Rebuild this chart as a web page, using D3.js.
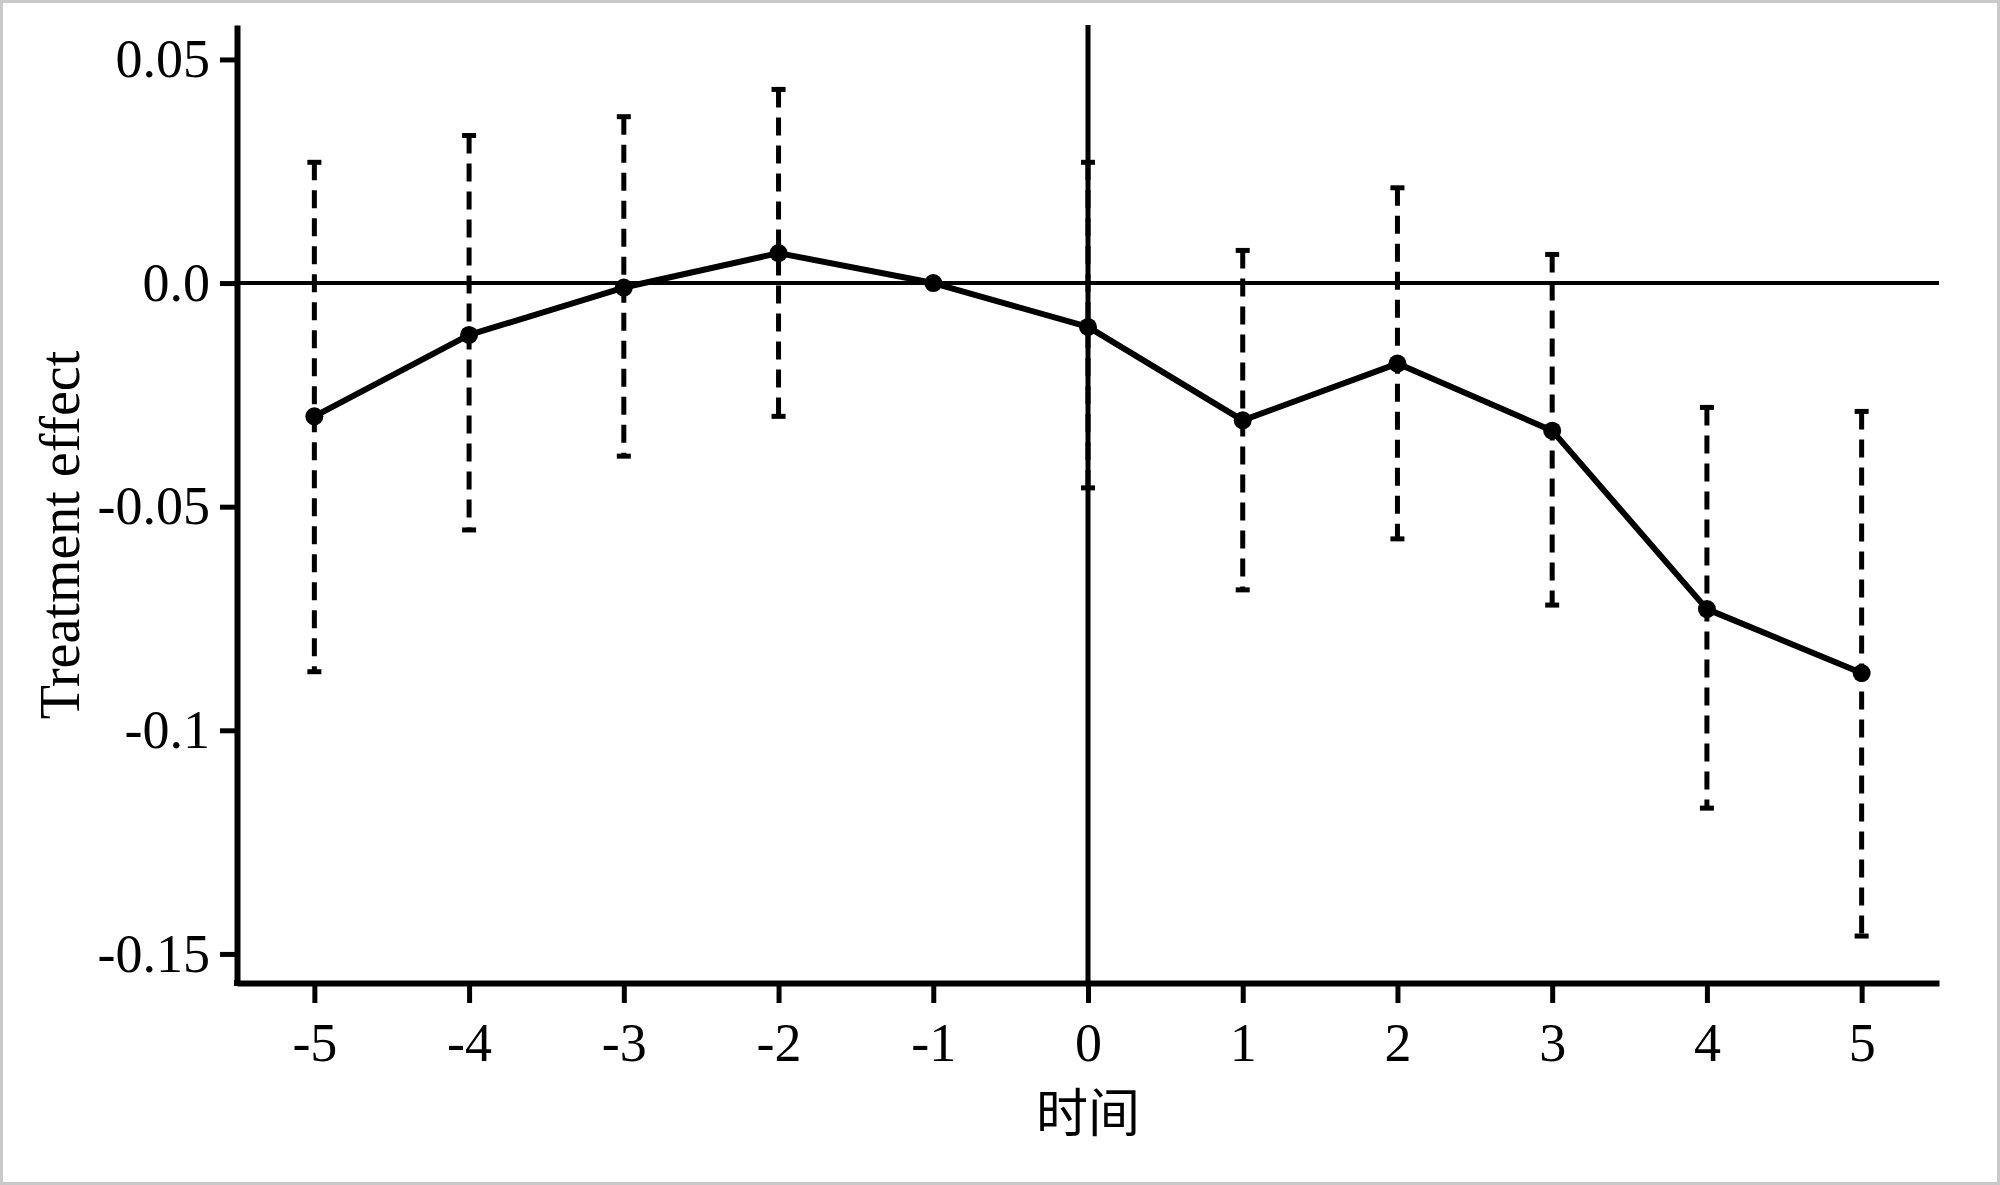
<!DOCTYPE html>
<html>
<head>
<meta charset="utf-8">
<script src="https://cdn.jsdelivr.net/npm/d3@7"></script>
<style>
  body { margin: 0; background: #fff; }
  svg { display: block; }
  .axisGroup text { font-family: "Liberation Serif", "DejaVu Serif", serif; font-size: 54px; fill: #000; }
  .axisGroup path, .axisGroup line { stroke: #000; }
</style>
</head>
<body>
<div id="container"></div>
<script>
// event time, coefficients and 95% bounds
var periods = [-5, -4, -3, -2, -1, 0, 1, 2, 3, 4, 5];
var effects = [-0.0298, -0.0116, -0.0010, 0.0067, 0.0, -0.0098, -0.0307, -0.0180, -0.0330, -0.0729, -0.0872];
var upper = [0.0270, 0.0330, 0.0372, 0.0433, null, 0.0270, 0.0073, 0.0213, 0.0064, -0.0278, -0.0287];
var lower = [-0.0869, -0.0552, -0.0387, -0.0298, null, -0.0458, -0.0686, -0.0572, -0.0720, -0.1174, -0.1460];
var yTicks = [0.05, 0, -0.05, -0.1, -0.15];
var yTickLabels = ["0.05", "0.0", "-0.05", "-0.1", "-0.15"];
var xTickLabels = ["-5", "-4", "-3", "-2", "-1", "0", "1", "2", "3", "4", "5"];

var width = 2000, height = 1185;
var margin = { top: 25, right: 61, bottom: 202, left: 237 };

var container = d3.select("#container");
var chart = container.append("svg")
  .attr("width", width)
  .attr("height", height);

// light frame round the picture
chart.append("rect")
  .attr("x", 1.5)
  .attr("y", 1.5)
  .attr("width", width - 3)
  .attr("height", height - 3)
  .attr("fill", "#fff")
  .attr("stroke", "#c9c9c9")
  .attr("stroke-width", 3);

var x = d3.scaleLinear()
  .domain([-5.5, 5.5])
  .range([margin.left, width - margin.right]);
var y = d3.scaleLinear()
  .domain([-0.1565, 0.0577])
  .range([height - margin.bottom, margin.top]);

var chartData = periods.map(function(p, i) {
  return { period: p, effect: effects[i], hi: upper[i], lo: lower[i] };
});

var chartGroup = chart.append("g").attr("id", "chartGroup");

// zero reference line
chartGroup.append("line")
  .attr("x1", x.range()[0])
  .attr("x2", x.range()[1])
  .attr("y1", y(0))
  .attr("y2", y(0))
  .attr("stroke", "#000")
  .attr("stroke-width", 4);

// confidence intervals, dashed
var bars = chartData.filter(function(d) { return d.hi !== null; });
chartGroup.selectAll(".ci")
  .data(bars)
  .enter().append("line")
    .classed("ci", true)
    .attr("x1", function(d) { return x(d.period); })
    .attr("x2", function(d) { return x(d.period); })
    .attr("y1", function(d) { return y(d.hi); })
    .attr("y2", function(d) { return y(d.lo); })
    .attr("stroke", "#000")
    .attr("stroke-width", 5)
    .attr("stroke-dasharray", "18,10");
chartGroup.selectAll(".capHi")
  .data(bars)
  .enter().append("line")
    .classed("capHi", true)
    .attr("x1", function(d) { return x(d.period) - 7; })
    .attr("x2", function(d) { return x(d.period) + 7; })
    .attr("y1", function(d) { return y(d.hi); })
    .attr("y2", function(d) { return y(d.hi); })
    .attr("stroke", "#000")
    .attr("stroke-width", 5);
chartGroup.selectAll(".capLo")
  .data(bars)
  .enter().append("line")
    .classed("capLo", true)
    .attr("x1", function(d) { return x(d.period) - 7; })
    .attr("x2", function(d) { return x(d.period) + 7; })
    .attr("y1", function(d) { return y(d.lo); })
    .attr("y2", function(d) { return y(d.lo); })
    .attr("stroke", "#000")
    .attr("stroke-width", 5);

// event line at period 0
chartGroup.append("line")
  .attr("x1", x(0))
  .attr("x2", x(0))
  .attr("y1", y.range()[1])
  .attr("y2", y.range()[0])
  .attr("stroke", "#000")
  .attr("stroke-width", 5);

var line = d3.line()
  .x(function(d) { return x(d.period); })
  .y(function(d) { return y(d.effect); });
chartGroup.append("path")
  .attr("d", line(chartData))
  .attr("fill", "none")
  .attr("stroke", "#000")
  .attr("stroke-width", 6)
  .attr("stroke-linejoin", "round");
chartGroup.selectAll(".dot")
  .data(chartData)
  .enter().append("circle")
    .classed("dot", true)
    .attr("cx", function(d) { return x(d.period); })
    .attr("cy", function(d) { return y(d.effect); })
    .attr("r", 9)
    .attr("fill", "#000");

// axes
var xAxis = d3.axisBottom(x)
  .tickValues(periods)
  .tickFormat(function(d, i) { return xTickLabels[i]; })
  .tickSizeInner(20)
  .tickSizeOuter(0)
  .tickPadding(20);
var yAxis = d3.axisLeft(y)
  .tickValues(yTicks)
  .tickFormat(function(d, i) { return yTickLabels[i]; })
  .tickSizeInner(17)
  .tickSizeOuter(0)
  .tickPadding(10);

var xAxisGroup = chart.append("g")
  .attr("id", "xAxisGroup")
  .classed("axisGroup", true)
  .attr("transform", "translate(0, " + (height - margin.bottom) + ")")
  .call(xAxis);
xAxisGroup.select(".domain").attr("stroke-width", 6);
xAxisGroup.selectAll(".tick line").attr("stroke-width", 5);

var yAxisGroup = chart.append("g")
  .attr("id", "yAxisGroup")
  .classed("axisGroup", true)
  .attr("transform", "translate(" + margin.left + ", 0)")
  .call(yAxis);
yAxisGroup.select(".domain").attr("stroke-width", 6);
yAxisGroup.selectAll(".tick line").attr("stroke-width", 5);
// join the two axis lines at the corner
chart.append("line")
  .attr("x1", margin.left - 3)
  .attr("x2", margin.left + 3)
  .attr("y1", height - margin.bottom)
  .attr("y2", height - margin.bottom)
  .attr("stroke", "#000")
  .attr("stroke-width", 6);

// axis titles
chart.append("text")
  .attr("x", x(0))
  .attr("y", 1132)
  .attr("text-anchor", "middle")
  .style("font-family", "'Noto Sans CJK SC', sans-serif")
  .style("font-size", "52px")
  .text("时间");
chart.append("text")
  .attr("transform", "translate(79, 535) rotate(-90)")
  .attr("text-anchor", "middle")
  .style("font-family", "'Liberation Serif', serif")
  .style("font-size", "56px")
  .text("Treatment effect");
</script>
</body>
</html>
